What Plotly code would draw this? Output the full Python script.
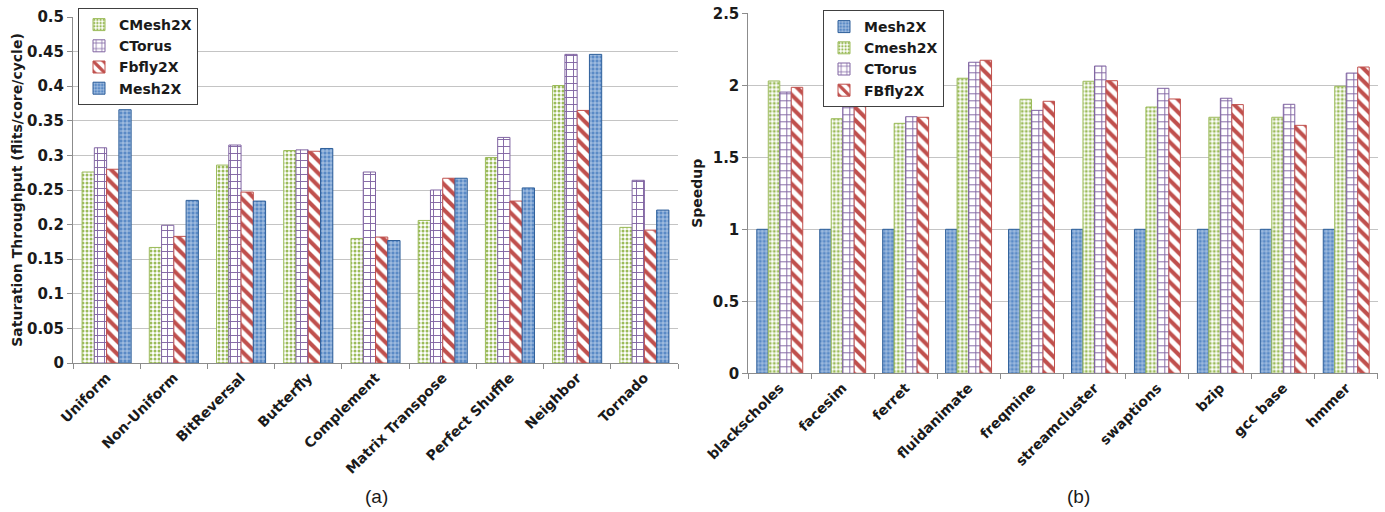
import plotly.graph_objects as go

# ---- Data: chart (a) ----
cats_a = ["Uniform", "Non-Uniform", "BitReversal", "Butterfly", "Complement",
          "Matrix Transpose", "Perfect Shuffle", "Neighbor", "Tornado"]
a_cmesh2x = [0.276, 0.167, 0.286, 0.307, 0.180, 0.206, 0.297, 0.401, 0.196]
a_ctorus = [0.311, 0.199, 0.315, 0.308, 0.276, 0.250, 0.326, 0.446, 0.264]
a_fbfly2x = [0.280, 0.183, 0.247, 0.306, 0.182, 0.267, 0.234, 0.365, 0.192]
a_mesh2x = [0.366, 0.235, 0.234, 0.310, 0.177, 0.267, 0.253, 0.446, 0.221]

# ---- Data: chart (b) ----
cats_b = ["blackscholes", "facesim", "ferret", "fluidanimate", "freqmine",
          "streamcluster", "swaptions", "bzip", "gcc base", "hmmer"]
b_mesh2x = [1, 1, 1, 1, 1, 1, 1, 1, 1, 1]
b_cmesh2x = [2.03, 1.768, 1.736, 2.049, 1.903, 2.028, 1.849, 1.778, 1.778, 1.993]
b_ctorus = [1.953, 1.924, 1.782, 2.16, 1.826, 2.134, 1.979, 1.910, 1.868, 2.085]
b_fbfly2x = [1.986, 1.858, 1.778, 2.174, 1.889, 2.032, 1.905, 1.866, 1.722, 2.127]

GREEN = "#9BBB59"
PURPLE = "#8064A2"
RED = "#C0504D"
BLUE = "#4F81BD"

W, H = 1385, 512
FONT = "DejaVu Sans"


def style(name):
    if name == "cmesh":
        return dict(color="white", line=dict(color=GREEN, width=1),
                    pattern=dict(shape=".", fgcolor=GREEN, bgcolor="white",
                                 size=4, solidity=0.45, fillmode="replace"))
    if name == "ctorus":
        return dict(color="white", line=dict(color=PURPLE, width=1),
                    pattern=dict(shape="+", fgcolor=PURPLE, bgcolor="white",
                                 size=7, solidity=0.25, fillmode="replace"))
    if name == "fbfly":
        return dict(color="white", line=dict(color=RED, width=1),
                    pattern=dict(shape="\\", fgcolor=RED, bgcolor="white",
                                 size=9, solidity=0.45, fillmode="replace"))
    return dict(color=BLUE, line=dict(color="#2E5F9A", width=1),
                pattern=dict(shape="+", fgcolor="#C3D5EC", bgcolor="#5A8AC6",
                             size=4, solidity=0.35, fillmode="replace"))


fig = go.Figure()

for name, vals, key in [("CMesh2X", a_cmesh2x, "cmesh"), ("CTorus", a_ctorus, "ctorus"),
                        ("Fbfly2X", a_fbfly2x, "fbfly"), ("Mesh2X", a_mesh2x, "mesh")]:
    fig.add_trace(go.Bar(x=cats_a, y=vals, name=name, marker=style(key),
                         xaxis="x", yaxis="y", legend="legend"))

for name, vals, key in [("Mesh2X", b_mesh2x, "mesh"), ("Cmesh2X", b_cmesh2x, "cmesh"),
                        ("CTorus", b_ctorus, "ctorus"), ("FBfly2X", b_fbfly2x, "fbfly")]:
    fig.add_trace(go.Bar(x=cats_b, y=vals, name=name, marker=style(key),
                         xaxis="x2", yaxis="y2", legend="legend2"))

ytickfont = dict(family=FONT, size=15, color="#1a1a1a", weight="bold")
xtickfont = dict(family=FONT, size=14, color="#1a1a1a", weight="bold")
axis_common = dict(showline=True, linecolor="#8C8C8C", linewidth=1,
                   ticks="outside", tickcolor="#8C8C8C", ticklen=5, automargin=False)
titlefont = dict(family=FONT, size=14, weight="bold", color="#1a1a1a")
legfont = dict(family=FONT, size=14, weight="bold", color="#1a1a1a")

fig.update_layout(
    width=W, height=H,
    margin=dict(l=0, r=0, t=0, b=0, autoexpand=False),
    paper_bgcolor="white", plot_bgcolor="white",
    barmode="group", bargap=0.27, bargroupgap=0.0,
    font=dict(family=FONT, color="#1a1a1a"),
    xaxis=dict(domain=[73 / W, 678 / W], anchor="y", tickangle=-45,
               tickson="boundaries", tickfont=xtickfont, **axis_common),
    yaxis=dict(domain=[1 - 363 / H, 1 - 17 / H], anchor="x", range=[0, 0.5],
               dtick=0.05, tickformat="~g", showgrid=True, gridcolor="#C4C4C4",
               gridwidth=1, tickfont=ytickfont, zeroline=False,
               title=dict(text="Saturation Throughput (flits/core/cycle)",
                          font=titlefont, standoff=1),
               **axis_common),
    xaxis2=dict(domain=[748.3 / W, 1377.7 / W], anchor="y2", tickangle=-45,
                tickson="boundaries", tickfont=xtickfont, **axis_common),
    yaxis2=dict(domain=[1 - 373.3 / H, 1 - 13.3 / H], anchor="x2", range=[0, 2.5],
                dtick=0.5, tickformat="~g", showgrid=True, gridcolor="#C4C4C4",
                gridwidth=1, tickfont=ytickfont, zeroline=False,
                title=dict(text="Speedup", font=titlefont, standoff=6),
                **axis_common),
    legend=dict(x=78 / W, y=1 - 8 / H, xanchor="left", yanchor="top",
                bgcolor="white", bordercolor="#404040", borderwidth=1,
                font=legfont, itemwidth=30, tracegroupgap=0),
    legend2=dict(x=823 / W, y=1 - 10 / H, xanchor="left", yanchor="top",
                 bgcolor="white", bordercolor="#404040", borderwidth=1,
                 font=legfont, itemwidth=30, tracegroupgap=0),
    annotations=[
        dict(text="(a)", x=376 / W, y=1 - 496 / H, xref="paper", yref="paper",
             xanchor="center", yanchor="middle",
             showarrow=False, font=dict(family="Liberation Sans", size=19, color="#1a1a1a")),
        dict(text="(b)", x=1078 / W, y=1 - 496 / H, xref="paper", yref="paper",
             xanchor="center", yanchor="middle",
             showarrow=False, font=dict(family="Liberation Sans", size=19, color="#1a1a1a")),
    ],
)

fig.write_html("out.html")
